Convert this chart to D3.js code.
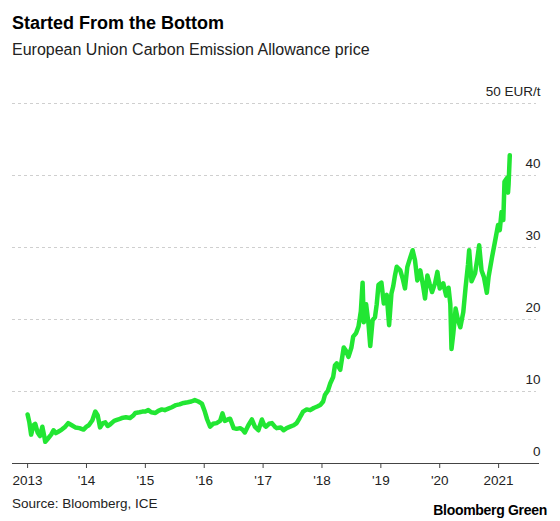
<!DOCTYPE html>
<html>
<head>
<meta charset="utf-8">
<script src="https://cdn.jsdelivr.net/npm/d3@7"></script>
<style>
  html, body { margin: 0; padding: 0; background: #fff; }
  svg { display: block; font-family: "Liberation Sans", Arial, sans-serif; }
</style>
</head>
<body>
<svg id="chart" width="560" height="521"></svg>
<script>
// ---- Data (decimal year, EUR/t) ----
const dates = [
  2013.00,2013.03,2013.06,2013.10,2013.13,2013.17,2013.21,2013.25,2013.28,2013.30,
  2013.35,2013.40,2013.44,2013.48,2013.52,2013.58,2013.64,2013.69,2013.75,2013.81,
  2013.88,2013.95,2014.00,2014.04,2014.10,2014.15,2014.19,2014.23,2014.28,2014.32,
  2014.36,2014.40,2014.47,2014.54,2014.60,2014.67,2014.74,2014.80,2014.83,2014.90,
  2014.95,2015.00,2015.05,2015.10,2015.17,2015.22,2015.28,2015.33,2015.39,2015.45,
  2015.52,2015.58,2015.65,2015.72,2015.78,2015.84,2015.90,2015.96,2016.01,2016.05,
  2016.10,2016.15,2016.21,2016.27,2016.31,2016.35,2016.40,2016.44,2016.50,2016.55,
  2016.61,2016.65,2016.69,2016.75,2016.81,2016.86,2016.92,2016.98,2017.02,2017.05,
  2017.10,2017.15,2017.20,2017.23,2017.30,2017.35,2017.40,2017.46,2017.52,2017.57,
  2017.62,2017.68,2017.74,2017.80,2017.86,2017.92,2017.97,2018.02,2018.05,2018.10,
  2018.14,2018.19,2018.22,2018.25,2018.31,2018.37,2018.41,2018.45,2018.50,2018.53,
  2018.58,2018.62,2018.66,2018.69,2018.71,2018.73,2018.75,2018.79,2018.82,2018.86,
  2018.90,2018.93,2018.96,2019.01,2019.05,2019.10,2019.14,2019.18,2019.21,2019.24,
  2019.27,2019.33,2019.37,2019.41,2019.45,2019.50,2019.54,2019.58,2019.62,2019.67,
  2019.72,2019.75,2019.79,2019.83,2019.87,2019.92,2019.96,2020.00,2020.06,2020.11,
  2020.15,2020.18,2020.20,2020.23,2020.27,2020.31,2020.35,2020.40,2020.44,2020.48,
  2020.50,2020.54,2020.60,2020.64,2020.67,2020.71,2020.75,2020.80,2020.83,2020.89,
  2020.95,2020.99,2021.02,2021.05,2021.08,2021.10,2021.14,2021.16,2021.17,2021.19
];
const prices = [
  6.7,5.6,3.9,5.2,5.4,4.2,3.7,5.0,3.8,2.9,
  3.4,3.9,4.5,4.1,4.3,4.6,5.0,5.5,5.2,4.9,
  4.8,4.6,5.0,5.2,5.9,7.1,6.6,4.9,5.5,5.6,
  5.1,5.3,5.8,6.0,6.2,6.3,6.2,6.6,6.9,7.0,
  7.1,7.1,7.3,7.0,6.9,7.2,7.4,7.3,7.5,7.7,
  8.0,8.1,8.3,8.4,8.5,8.7,8.5,8.2,7.1,6.0,
  5.0,5.4,5.5,5.8,6.85,5.8,6.0,6.1,4.8,4.7,
  4.8,4.6,4.2,5.2,6.0,5.0,4.5,6.0,5.2,5.0,
  5.4,5.5,5.0,4.8,4.9,4.5,4.8,5.0,5.2,5.5,
  6.2,7.1,7.4,7.3,7.6,7.8,8.0,8.5,9.4,10.0,
  11.0,11.9,13.5,13.8,12.9,16.0,15.5,14.7,16.0,17.5,
  18.0,18.9,21.0,25.0,19.5,21.0,22.0,19.3,16.2,19.8,
  20.2,22.0,24.7,25.0,22.1,23.3,19.1,23.5,24.5,26.0,
  27.2,26.7,25.6,24.2,27.2,28.5,29.5,28.1,25.3,26.7,
  24.4,22.8,26.0,24.8,23.7,24.9,26.5,24.2,24.9,23.2,
  24.3,22.0,15.8,17.9,21.4,19.8,18.8,20.9,24.4,27.5,
  29.5,25.2,26.3,28.4,30.2,26.7,25.8,23.6,25.8,28.6,
  31.2,33.0,32.3,34.8,33.7,39.0,39.5,37.5,38.7,42.7
];
const xTickYears = [2013,2014,2015,2016,2017,2018,2019,2020,2021];
const xTickLabels = ["2013","'14","'15","'16","'17","'18","'19","'20","2021"];
const yTicks = [0,10,20,30,40,50];
const yTickLabels = ["0","10","20","30","40","50 EUR/t"];

const title = "Started From the Bottom";
const subtitle = "European Union Carbon Emission Allowance price";
const source = "Source: Bloomberg, ICE";
const brand = "Bloomberg Green";

// ---- Layout ----
const svg = d3.select("#chart");
const plotLeft = 12, plotRight = 539;
const x = d3.scaleLinear().domain([2013, 2021]).range([27.6, 498.6]);
const y = d3.scaleLinear().domain([0, 50]).range([462.7, 102.6]);

svg.append("text").attr("x", 12).attr("y", 29)
  .attr("font-size", 18).attr("font-weight", "bold").attr("fill", "#000")
  .text(title);
svg.append("text").attr("x", 12).attr("y", 55)
  .attr("font-size", 16).attr("fill", "#222")
  .text(subtitle);

// gridlines
const grid = svg.append("g");
grid.selectAll("line").data(yTicks.filter(d => d > 0)).join("line")
  .attr("x1", plotLeft).attr("x2", 536)
  .attr("y1", d => Math.round(y(d)) + 0.5).attr("y2", d => Math.round(y(d)) + 0.5)
  .attr("stroke", "#cfcfcf").attr("stroke-width", 1).attr("stroke-dasharray", "3,3");

// y labels
svg.append("g").selectAll("text").data(yTicks).join("text")
  .attr("x", 540.5).attr("y", d => y(d) - 7)
  .attr("text-anchor", "end").attr("font-size", 13.5).attr("fill", "#222")
  .text((d, i) => yTickLabels[i]);

// x axis
const axisY = Math.round(y(0)) + 0.5;
svg.append("line").attr("x1", plotLeft).attr("x2", plotRight)
  .attr("y1", axisY).attr("y2", axisY).attr("stroke", "#444").attr("stroke-width", 1);
const xt = svg.append("g");
xt.selectAll("line").data(xTickYears).join("line")
  .attr("x1", d => x(d)).attr("x2", d => x(d))
  .attr("y1", axisY).attr("y2", axisY + 4.5)
  .attr("stroke", "#444").attr("stroke-width", 1);
xt.selectAll("text").data(xTickYears).join("text")
  .attr("x", d => x(d)).attr("y", 484.5)
  .attr("text-anchor", "middle").attr("font-size", 13.5).attr("fill", "#222")
  .text((d, i) => xTickLabels[i]);

// line
const pts = dates.map((d, i) => [d, prices[i]]);
const line = d3.line().x(d => x(d[0])).y(d => y(d[1])).curve(d3.curveLinear);
svg.append("path").datum(pts)
  .attr("d", line).attr("fill", "none")
  .attr("stroke", "#22e633").attr("stroke-width", 4.5)
  .attr("stroke-linejoin", "round").attr("stroke-linecap", "round");

// footer
svg.append("text").attr("x", 12).attr("y", 508)
  .attr("font-size", 13.5).attr("fill", "#222").text(source);
svg.append("text").attr("x", 547).attr("y", 514.5)
  .attr("text-anchor", "end").attr("font-size", 14).attr("font-weight", "bold")
  .attr("fill", "#000").attr("letter-spacing", "-0.3").text(brand);
</script>
</body>
</html>
